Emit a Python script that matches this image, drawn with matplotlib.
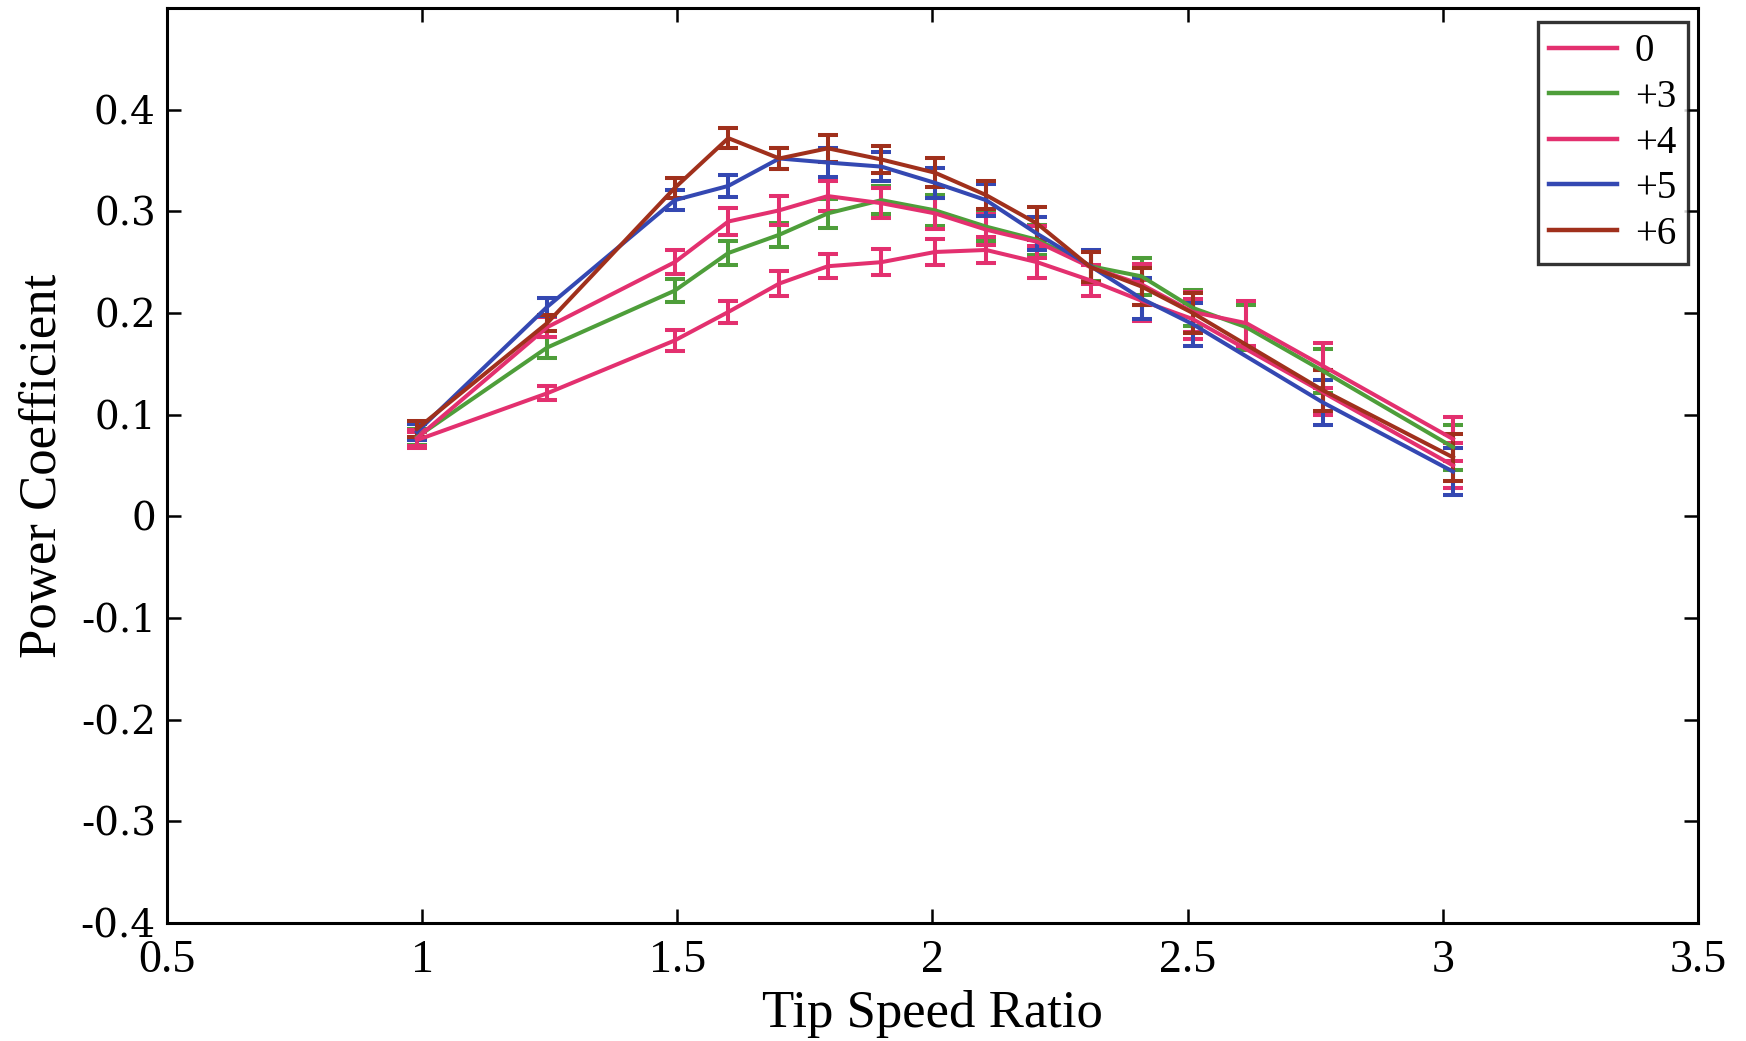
import matplotlib
matplotlib.use("Agg")
import matplotlib.pyplot as plt

# ---- data ----
labels = ["0", "+3", "+4", "+5", "+6"]
colors = ["#E3306F", "#4E9E3A", "#E3306F", "#3448B2", "#A0301C"]

x_0 = [0.99, 1.245, 1.495, 1.6, 1.7, 1.795, 1.9, 2.005, 2.105, 2.205, 2.31, 2.41, 2.51, 2.765, 3.02]
y_0 = [0.075, 0.121, 0.173, 0.201, 0.229, 0.246, 0.250, 0.260, 0.262, 0.250, 0.232, 0.212, 0.194, 0.122, 0.050]
e_0 = [0.008, 0.007, 0.010, 0.011, 0.012, 0.012, 0.013, 0.013, 0.013, 0.016, 0.015, 0.020, 0.020, 0.022, 0.022]

x_3 = [0.99, 1.245, 1.495, 1.6, 1.7, 1.795, 1.9, 2.005, 2.105, 2.205, 2.31, 2.41, 2.51, 2.615, 2.765, 3.02]
y_3 = [0.078, 0.166, 0.222, 0.259, 0.277, 0.298, 0.311, 0.301, 0.285, 0.272, 0.246, 0.236, 0.205, 0.186, 0.143, 0.068]
e_3 = [0.008, 0.010, 0.011, 0.012, 0.012, 0.014, 0.014, 0.015, 0.014, 0.015, 0.015, 0.018, 0.018, 0.022, 0.022, 0.022]

x_4 = [0.99, 1.245, 1.495, 1.6, 1.7, 1.795, 1.9, 2.005, 2.105, 2.205, 2.31, 2.41, 2.51, 2.615, 2.765, 3.02]
y_4 = [0.077, 0.186, 0.250, 0.290, 0.301, 0.315, 0.308, 0.298, 0.282, 0.270, 0.245, 0.228, 0.201, 0.190, 0.148, 0.076]
e_4 = [0.008, 0.010, 0.012, 0.013, 0.014, 0.015, 0.015, 0.015, 0.015, 0.016, 0.016, 0.020, 0.020, 0.022, 0.022, 0.022]

x_5 = [0.99, 1.245, 1.495, 1.6, 1.7, 1.795, 1.9, 2.005, 2.105, 2.205, 2.31, 2.41, 2.51, 2.765, 3.02]
y_5 = [0.083, 0.206, 0.311, 0.325, 0.352, 0.348, 0.344, 0.328, 0.311, 0.278, 0.246, 0.214, 0.189, 0.112, 0.044]
e_5 = [0.008, 0.009, 0.010, 0.011, 0.010, 0.014, 0.014, 0.015, 0.016, 0.016, 0.016, 0.020, 0.021, 0.022, 0.023]

x_6 = [0.99, 1.245, 1.495, 1.6, 1.7, 1.795, 1.9, 2.005, 2.105, 2.205, 2.31, 2.41, 2.51, 2.765, 3.02]
y_6 = [0.086, 0.190, 0.323, 0.372, 0.352, 0.362, 0.351, 0.338, 0.316, 0.288, 0.245, 0.226, 0.200, 0.124, 0.058]
e_6 = [0.008, 0.008, 0.010, 0.010, 0.010, 0.013, 0.013, 0.014, 0.014, 0.016, 0.015, 0.018, 0.020, 0.020, 0.023]

xs = [x_0, x_3, x_4, x_5, x_6]
ys = [y_0, y_3, y_4, y_5, y_6]
es = [e_0, e_3, e_4, e_5, e_6]

x_ticks = [0.5, 1, 1.5, 2, 2.5, 3, 3.5]
x_tick_labels = ["0.5", "1", "1.5", "2", "2.5", "3", "3.5"]
y_ticks = [-0.4, -0.3, -0.2, -0.1, 0, 0.1, 0.2, 0.3, 0.4]
y_tick_labels = ["-0.4", "-0.3", "-0.2", "-0.1", "0", "0.1", "0.2", "0.3", "0.4"]

plt.rcParams['font.family'] = ['Liberation Serif', 'DejaVu Serif']

fig = plt.figure(figsize=(17.46, 10.41), dpi=100)
ax = fig.add_axes([0.0956, 0.1134, 0.8769, 0.8789])

for x, y, e, c, lab in zip(xs, ys, es, colors, labels):
    ax.errorbar(x, y, yerr=e, color=c, lw=2.9, elinewidth=2.9,
                capsize=7.5, capthick=2.9, label=lab)

ax.set_xlim(0.5, 3.5)
ax.set_ylim(-0.4, 0.5)
ax.set_xticks(x_ticks)
ax.set_xticklabels(x_tick_labels, fontsize=33)
ax.set_yticks(y_ticks)
ax.set_yticklabels(y_tick_labels, fontsize=28, family=['DejaVu Serif'])
ax.tick_params(axis='both', direction='in', length=10, width=1.8,
               top=True, right=True)
ax.tick_params(axis='x', pad=12)
ax.tick_params(axis='y', pad=8)
for s in ax.spines.values():
    s.set_linewidth(2.2)

ax.set_xlabel("Tip Speed Ratio", fontsize=38, labelpad=6)
ax.set_ylabel("Power Coefficient", fontsize=38, labelpad=10)

leg = ax.legend(handles=[plt.Line2D([], [], color=c, lw=3.2) for c in colors],
                labels=labels, loc='upper right', bbox_to_anchor=(0.9935, 0.985),
                fontsize=28, frameon=True, fancybox=False, handlelength=1.75,
                labelspacing=0.22, borderpad=0.3, handletextpad=0.45,
                borderaxespad=0)
leg.get_frame().set_edgecolor('black')
leg.get_frame().set_linewidth(2.4)

fig.savefig("out.png", dpi=100)
